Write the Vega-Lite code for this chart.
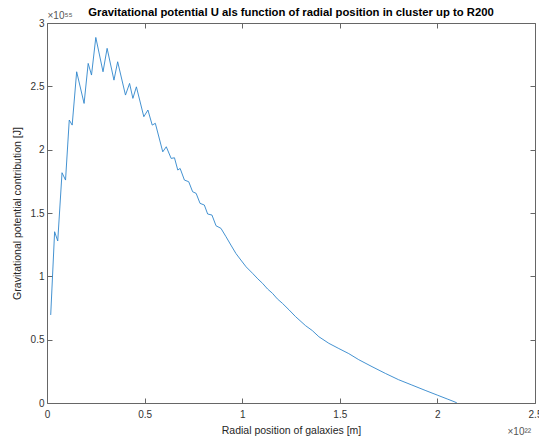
{
  "$schema": "https://vega.github.io/schema/vega-lite/v6.json",
  "autosize": {"type": "none"},
  "padding": {"left": 47, "top": 23, "right": 4, "bottom": 33},
  "width": 488,
  "height": 380,
  "background": "white",
  "title": {
    "text": "Gravitational potential U als function of radial position in cluster up to R200",
    "font": "Liberation Sans",
    "fontSize": 11.3,
    "fontWeight": "bold",
    "color": "#000000",
    "anchor": "middle",
    "baseline": "alphabetic",
    "offset": -17
  },
  "config": {
    "view": {"stroke": null},
    "axis": {
      "labelFont": "Liberation Sans",
      "titleFont": "Liberation Sans",
      "labelFontSize": 10,
      "titleFontSize": 10.5,
      "titleFontWeight": "normal",
      "labelColor": "#333333",
      "titleColor": "#262626",
      "domainColor": "#666666",
      "tickColor": "#666666",
      "domainWidth": 1,
      "tickWidth": 1,
      "tickSize": -5,
      "grid": false
    }
  },
  "data": {
    "values": [
      {"r": 0.019, "u": 0.695},
      {"r": 0.039, "u": 1.352},
      {"r": 0.055, "u": 1.279},
      {"r": 0.077, "u": 1.818},
      {"r": 0.095, "u": 1.760},
      {"r": 0.114, "u": 2.234},
      {"r": 0.129, "u": 2.194},
      {"r": 0.152, "u": 2.615},
      {"r": 0.190, "u": 2.365},
      {"r": 0.211, "u": 2.681},
      {"r": 0.228, "u": 2.589},
      {"r": 0.250, "u": 2.886},
      {"r": 0.287, "u": 2.615},
      {"r": 0.308, "u": 2.800},
      {"r": 0.343, "u": 2.549},
      {"r": 0.362, "u": 2.694},
      {"r": 0.402, "u": 2.431},
      {"r": 0.423, "u": 2.523},
      {"r": 0.440, "u": 2.405},
      {"r": 0.458, "u": 2.496},
      {"r": 0.496, "u": 2.260},
      {"r": 0.517, "u": 2.313},
      {"r": 0.539, "u": 2.194},
      {"r": 0.555, "u": 2.208},
      {"r": 0.593, "u": 1.983},
      {"r": 0.611, "u": 2.023},
      {"r": 0.636, "u": 1.931},
      {"r": 0.653, "u": 1.936},
      {"r": 0.670, "u": 1.839},
      {"r": 0.682, "u": 1.852},
      {"r": 0.704, "u": 1.760},
      {"r": 0.726, "u": 1.747},
      {"r": 0.746, "u": 1.668},
      {"r": 0.764, "u": 1.655},
      {"r": 0.784, "u": 1.576},
      {"r": 0.806, "u": 1.563},
      {"r": 0.823, "u": 1.492},
      {"r": 0.845, "u": 1.484},
      {"r": 0.866, "u": 1.399},
      {"r": 0.891, "u": 1.379},
      {"r": 0.917, "u": 1.313},
      {"r": 0.942, "u": 1.247},
      {"r": 0.968, "u": 1.180},
      {"r": 0.993, "u": 1.129},
      {"r": 1.020, "u": 1.075},
      {"r": 1.053, "u": 1.024},
      {"r": 1.080, "u": 0.980},
      {"r": 1.104, "u": 0.945},
      {"r": 1.130, "u": 0.900},
      {"r": 1.155, "u": 0.866},
      {"r": 1.180, "u": 0.822},
      {"r": 1.206, "u": 0.787},
      {"r": 1.240, "u": 0.735},
      {"r": 1.274, "u": 0.681},
      {"r": 1.325, "u": 0.610},
      {"r": 1.359, "u": 0.572},
      {"r": 1.393, "u": 0.523},
      {"r": 1.444, "u": 0.471},
      {"r": 1.495, "u": 0.430},
      {"r": 1.546, "u": 0.390},
      {"r": 1.597, "u": 0.342},
      {"r": 1.665, "u": 0.287},
      {"r": 1.733, "u": 0.234},
      {"r": 1.801, "u": 0.184},
      {"r": 1.869, "u": 0.142},
      {"r": 1.937, "u": 0.100},
      {"r": 2.000, "u": 0.062},
      {"r": 2.050, "u": 0.032},
      {"r": 2.090, "u": 0.008},
      {"r": 2.100, "u": 0.0}
    ]
  },
  "layer": [
    {
      "mark": {"type": "line", "color": "#2f86cc", "strokeWidth": 0.9, "clip": true},
      "encoding": {
        "x": {
          "field": "r", "type": "quantitative",
          "scale": {"domain": [0, 2.5], "nice": false, "zero": false},
          "axis": {
            "orient": "bottom",
            "values": [0, 0.5, 1, 1.5, 2, 2.5],
            "format": "~g",
            "labelPadding": 11,
            "labelFlush": false,
            "labelOverlap": false,
            "title": "Radial position of galaxies [m]",
            "titlePadding": 6
          }
        },
        "y": {
          "field": "u", "type": "quantitative",
          "scale": {"domain": [0, 3], "nice": false, "zero": false},
          "axis": {
            "orient": "left",
            "values": [0, 0.5, 1, 1.5, 2, 2.5, 3],
            "format": "~g",
            "labelPadding": 8,
            "labelFlush": false,
            "labelOverlap": false,
            "title": "Gravitational potential contribution [J]",
            "titlePadding": 8
          }
        }
      }
    },
    {
      "mark": {"type": "line", "opacity": 0},
      "encoding": {
        "x": {
          "field": "r", "type": "quantitative",
          "axis": {
            "orient": "top",
            "values": [0, 0.5, 1, 1.5, 2, 2.5],
            "labels": false,
            "title": "×10⁵⁵",
            "titleFontSize": 10,
            "titleColor": "#555555",
            "titleX": 0,
            "titleY": -5,
            "titleAlign": "left",
            "titleAngle": 0,
            "titleBaseline": "alphabetic"
          }
        },
        "y": {
          "field": "u", "type": "quantitative",
          "axis": {
            "orient": "right",
            "values": [0, 0.5, 1, 1.5, 2, 2.5, 3],
            "labels": false,
            "title": "×10²²",
            "titleFontSize": 10,
            "titleColor": "#555555",
            "titleX": -28,
            "titleY": 411,
            "titleAlign": "left",
            "titleAngle": 0,
            "titleBaseline": "alphabetic"
          }
        }
      }
    }
  ],
  "resolve": {"axis": {"x": "independent", "y": "independent"}}
}
